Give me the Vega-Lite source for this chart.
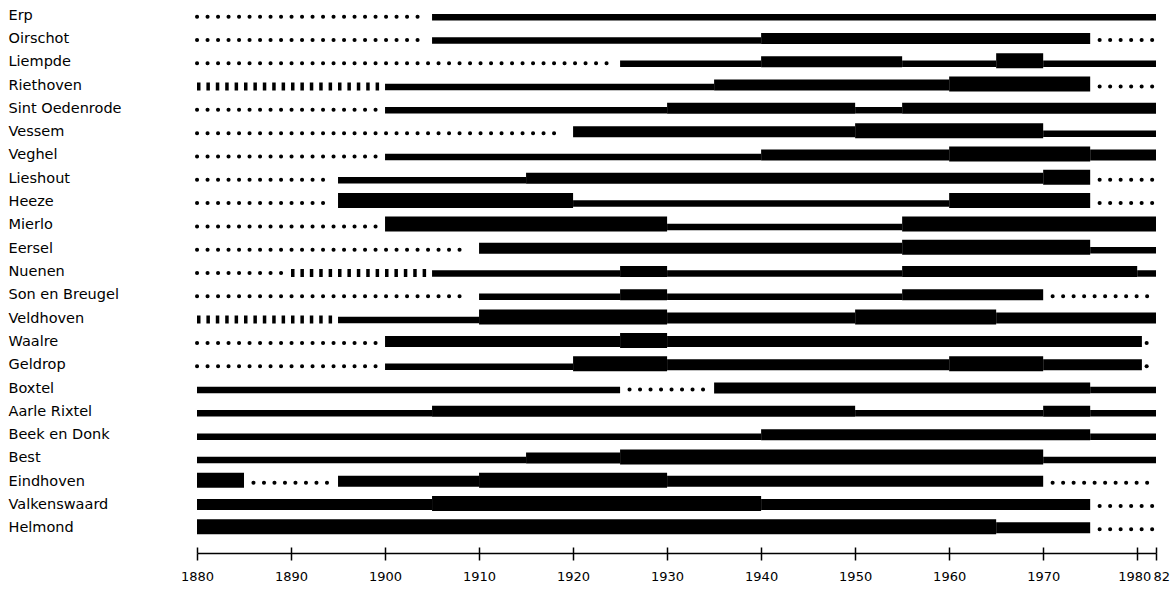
{
  "$schema": "https://vega.github.io/schema/vega-lite/v6.json",
  "width": 959,
  "height": 536,
  "autosize": {"type": "none"},
  "padding": {"left": 197, "top": 5, "right": 19, "bottom": 48},
  "background": "white",
  "config": {"view": {"stroke": null}},
  "data": {"values": [
    {"town": "Erp", "start": 1880, "end": 1904, "type": "dots"},
    {"town": "Erp", "start": 1905, "end": 1982, "type": "thin"},
    {"town": "Oirschot", "start": 1880, "end": 1904, "type": "dots"},
    {"town": "Oirschot", "start": 1905, "end": 1940, "type": "thin"},
    {"town": "Oirschot", "start": 1940, "end": 1975, "type": "medium"},
    {"town": "Oirschot", "start": 1976, "end": 1982, "type": "dots"},
    {"town": "Liempde", "start": 1880, "end": 1924, "type": "dots"},
    {"town": "Liempde", "start": 1925, "end": 1940, "type": "thin"},
    {"town": "Liempde", "start": 1940, "end": 1955, "type": "medium"},
    {"town": "Liempde", "start": 1955, "end": 1965, "type": "thin"},
    {"town": "Liempde", "start": 1965, "end": 1970, "type": "thick"},
    {"town": "Liempde", "start": 1970, "end": 1982, "type": "thin"},
    {"town": "Riethoven", "start": 1880, "end": 1899.5, "type": "dashes"},
    {"town": "Riethoven", "start": 1900, "end": 1935, "type": "thin"},
    {"town": "Riethoven", "start": 1935, "end": 1960, "type": "medium"},
    {"town": "Riethoven", "start": 1960, "end": 1975, "type": "thick"},
    {"town": "Riethoven", "start": 1976, "end": 1982, "type": "dots"},
    {"town": "Sint Oedenrode", "start": 1880, "end": 1899, "type": "dots"},
    {"town": "Sint Oedenrode", "start": 1900, "end": 1930, "type": "thin"},
    {"town": "Sint Oedenrode", "start": 1930, "end": 1950, "type": "medium"},
    {"town": "Sint Oedenrode", "start": 1950, "end": 1955, "type": "thin"},
    {"town": "Sint Oedenrode", "start": 1955, "end": 1982, "type": "medium"},
    {"town": "Vessem", "start": 1880, "end": 1919, "type": "dots"},
    {"town": "Vessem", "start": 1920, "end": 1950, "type": "medium"},
    {"town": "Vessem", "start": 1950, "end": 1970, "type": "thick"},
    {"town": "Vessem", "start": 1970, "end": 1982, "type": "thin"},
    {"town": "Veghel", "start": 1880, "end": 1899, "type": "dots"},
    {"town": "Veghel", "start": 1900, "end": 1940, "type": "thin"},
    {"town": "Veghel", "start": 1940, "end": 1960, "type": "medium"},
    {"town": "Veghel", "start": 1960, "end": 1975, "type": "thick"},
    {"town": "Veghel", "start": 1975, "end": 1982, "type": "medium"},
    {"town": "Lieshout", "start": 1880, "end": 1894, "type": "dots"},
    {"town": "Lieshout", "start": 1895, "end": 1915, "type": "thin"},
    {"town": "Lieshout", "start": 1915, "end": 1970, "type": "medium"},
    {"town": "Lieshout", "start": 1970, "end": 1975, "type": "thick"},
    {"town": "Lieshout", "start": 1976, "end": 1982, "type": "dots"},
    {"town": "Heeze", "start": 1880, "end": 1894, "type": "dots"},
    {"town": "Heeze", "start": 1895, "end": 1920, "type": "thick"},
    {"town": "Heeze", "start": 1920, "end": 1960, "type": "thin"},
    {"town": "Heeze", "start": 1960, "end": 1975, "type": "thick"},
    {"town": "Heeze", "start": 1976, "end": 1982, "type": "dots"},
    {"town": "Mierlo", "start": 1880, "end": 1899, "type": "dots"},
    {"town": "Mierlo", "start": 1900, "end": 1930, "type": "thick"},
    {"town": "Mierlo", "start": 1930, "end": 1955, "type": "thin"},
    {"town": "Mierlo", "start": 1955, "end": 1982, "type": "thick"},
    {"town": "Eersel", "start": 1880, "end": 1909, "type": "dots"},
    {"town": "Eersel", "start": 1910, "end": 1955, "type": "medium"},
    {"town": "Eersel", "start": 1955, "end": 1975, "type": "thick"},
    {"town": "Eersel", "start": 1975, "end": 1982, "type": "thin"},
    {"town": "Nuenen", "start": 1880, "end": 1889, "type": "dots"},
    {"town": "Nuenen", "start": 1890, "end": 1904.5, "type": "dashes"},
    {"town": "Nuenen", "start": 1905, "end": 1925, "type": "thin"},
    {"town": "Nuenen", "start": 1925, "end": 1930, "type": "medium"},
    {"town": "Nuenen", "start": 1930, "end": 1955, "type": "thin"},
    {"town": "Nuenen", "start": 1955, "end": 1980, "type": "medium"},
    {"town": "Nuenen", "start": 1980, "end": 1982, "type": "thin"},
    {"town": "Son en Breugel", "start": 1880, "end": 1909, "type": "dots"},
    {"town": "Son en Breugel", "start": 1910, "end": 1925, "type": "thin"},
    {"town": "Son en Breugel", "start": 1925, "end": 1930, "type": "medium"},
    {"town": "Son en Breugel", "start": 1930, "end": 1955, "type": "thin"},
    {"town": "Son en Breugel", "start": 1955, "end": 1970, "type": "medium"},
    {"town": "Son en Breugel", "start": 1971, "end": 1982, "type": "dots"},
    {"town": "Veldhoven", "start": 1880, "end": 1894.5, "type": "dashes"},
    {"town": "Veldhoven", "start": 1895, "end": 1910, "type": "thin"},
    {"town": "Veldhoven", "start": 1910, "end": 1930, "type": "thick"},
    {"town": "Veldhoven", "start": 1930, "end": 1950, "type": "medium"},
    {"town": "Veldhoven", "start": 1950, "end": 1965, "type": "thick"},
    {"town": "Veldhoven", "start": 1965, "end": 1982, "type": "medium"},
    {"town": "Waalre", "start": 1880, "end": 1899, "type": "dots"},
    {"town": "Waalre", "start": 1900, "end": 1925, "type": "medium"},
    {"town": "Waalre", "start": 1925, "end": 1930, "type": "thick"},
    {"town": "Waalre", "start": 1930, "end": 1980.5, "type": "medium"},
    {"town": "Waalre", "start": 1981, "end": 1982, "type": "dots"},
    {"town": "Geldrop", "start": 1880, "end": 1899, "type": "dots"},
    {"town": "Geldrop", "start": 1900, "end": 1920, "type": "thin"},
    {"town": "Geldrop", "start": 1920, "end": 1930, "type": "thick"},
    {"town": "Geldrop", "start": 1930, "end": 1960, "type": "medium"},
    {"town": "Geldrop", "start": 1960, "end": 1970, "type": "thick"},
    {"town": "Geldrop", "start": 1970, "end": 1980.5, "type": "medium"},
    {"town": "Geldrop", "start": 1981, "end": 1982, "type": "dots"},
    {"town": "Boxtel", "start": 1880, "end": 1925, "type": "thin"},
    {"town": "Boxtel", "start": 1926, "end": 1934, "type": "dots"},
    {"town": "Boxtel", "start": 1935, "end": 1975, "type": "medium"},
    {"town": "Boxtel", "start": 1975, "end": 1982, "type": "thin"},
    {"town": "Aarle Rixtel", "start": 1880, "end": 1905, "type": "thin"},
    {"town": "Aarle Rixtel", "start": 1905, "end": 1950, "type": "medium"},
    {"town": "Aarle Rixtel", "start": 1950, "end": 1970, "type": "thin"},
    {"town": "Aarle Rixtel", "start": 1970, "end": 1975, "type": "medium"},
    {"town": "Aarle Rixtel", "start": 1975, "end": 1982, "type": "thin"},
    {"town": "Beek en Donk", "start": 1880, "end": 1940, "type": "thin"},
    {"town": "Beek en Donk", "start": 1940, "end": 1975, "type": "medium"},
    {"town": "Beek en Donk", "start": 1975, "end": 1982, "type": "thin"},
    {"town": "Best", "start": 1880, "end": 1915, "type": "thin"},
    {"town": "Best", "start": 1915, "end": 1925, "type": "medium"},
    {"town": "Best", "start": 1925, "end": 1970, "type": "thick"},
    {"town": "Best", "start": 1970, "end": 1982, "type": "thin"},
    {"town": "Eindhoven", "start": 1880, "end": 1885, "type": "thick"},
    {"town": "Eindhoven", "start": 1886, "end": 1894, "type": "dots"},
    {"town": "Eindhoven", "start": 1895, "end": 1910, "type": "medium"},
    {"town": "Eindhoven", "start": 1910, "end": 1930, "type": "thick"},
    {"town": "Eindhoven", "start": 1930, "end": 1970, "type": "medium"},
    {"town": "Eindhoven", "start": 1971, "end": 1982, "type": "dots"},
    {"town": "Valkenswaard", "start": 1880, "end": 1905, "type": "medium"},
    {"town": "Valkenswaard", "start": 1905, "end": 1940, "type": "thick"},
    {"town": "Valkenswaard", "start": 1940, "end": 1975, "type": "medium"},
    {"town": "Valkenswaard", "start": 1976, "end": 1982, "type": "dots"},
    {"town": "Helmond", "start": 1880, "end": 1965, "type": "thick"},
    {"town": "Helmond", "start": 1965, "end": 1975, "type": "medium"},
    {"town": "Helmond", "start": 1976, "end": 1982, "type": "dots"}
  ]},
  "encoding": {
    "y": {
      "field": "town", "type": "nominal",
      "sort": ["Erp", "Oirschot", "Liempde", "Riethoven", "Sint Oedenrode", "Vessem", "Veghel", "Lieshout", "Heeze", "Mierlo", "Eersel", "Nuenen", "Son en Breugel", "Veldhoven", "Waalre", "Geldrop", "Boxtel", "Aarle Rixtel", "Beek en Donk", "Best", "Eindhoven", "Valkenswaard", "Helmond"],
      "scale": {"paddingInner": 0, "paddingOuter": 0},
      "axis": {
        "title": null, "domain": false, "ticks": false, "tickSize": 0,
        "labelAlign": "left", "labelBaseline": "middle", "labelPadding": 189,
        "labelFont": "DejaVu Sans", "labelFontSize": 14.5, "labelColor": "#000",
        "labelOffset": -1, "labelLimit": 0
      }
    }
  },
  "resolve": {"axis": {"x": "independent"}},
  "layer": [
    {
      "transform": [{"filter": "datum.type === 'thin'"}],
      "mark": {"type": "bar", "color": "#000", "size": 6.5, "yOffset": 0.5},
      "encoding": {
        "x": {
          "field": "start", "type": "quantitative",
          "scale": {"domain": [1880, 1982], "nice": false, "zero": false},
          "axis": {
            "orient": "bottom", "title": null, "grid": false, "offset": 12,
            "values": [1880, 1890, 1900, 1910, 1920, 1930, 1940, 1950, 1960, 1970, 1980, 1982],
            "labelExpr": "datum.value == 1982 ? '82' : datum.value",
            "labelAlign": {"condition": {"test": "datum.value == 1982", "value": "left"}, "value": "center"},
            "labelOffset": {"condition": {"test": "datum.value >= 1980", "value": -3}, "value": 0},
            "domain": true, "domainColor": "#000", "domainWidth": 1.5,
            "ticks": true, "tickSize": 7, "tickColor": "#000", "tickWidth": 1.5,
            "labelFont": "DejaVu Sans", "labelFontSize": 13, "labelColor": "#000",
            "labelPadding": 10, "labelFlush": false, "labelOverlap": false
          }
        },
        "x2": {"field": "end"}
      }
    },
    {
      "transform": [{"filter": "datum.type === 'medium'"}],
      "mark": {"type": "bar", "color": "#000", "size": 11, "yOffset": -1.5},
      "encoding": {
        "x": {"field": "start", "type": "quantitative", "axis": null},
        "x2": {"field": "end"}
      }
    },
    {
      "transform": [{"filter": "datum.type === 'thick'"}],
      "mark": {"type": "bar", "color": "#000", "size": 15, "yOffset": -2.5},
      "encoding": {
        "x": {"field": "start", "type": "quantitative", "axis": null},
        "x2": {"field": "end"}
      }
    },
    {
      "transform": [{"filter": "datum.type === 'dots'"}],
      "mark": {"type": "rule", "color": "#000", "strokeWidth": 4, "strokeCap": "round", "strokeDash": [0.1, 10.4]},
      "encoding": {
        "x": {
          "field": "start", "type": "quantitative",
          "axis": {
            "orient": "bottom", "title": null, "grid": false, "offset": 12,
            "values": [1880, 1890, 1900, 1910, 1920, 1930, 1940, 1950, 1960, 1970, 1980, 1982],
            "domain": false, "labels": false,
            "ticks": true, "tickSize": -6, "tickColor": "#000", "tickWidth": 1.5
          }
        },
        "x2": {"field": "end"}
      }
    },
    {
      "transform": [{"filter": "datum.type === 'dashes'"}],
      "mark": {"type": "rule", "color": "#000", "strokeWidth": 8, "strokeCap": "butt", "strokeDash": [3.5, 5.9]},
      "encoding": {
        "x": {"field": "start", "type": "quantitative", "axis": null},
        "x2": {"field": "end"}
      }
    }
  ]
}
